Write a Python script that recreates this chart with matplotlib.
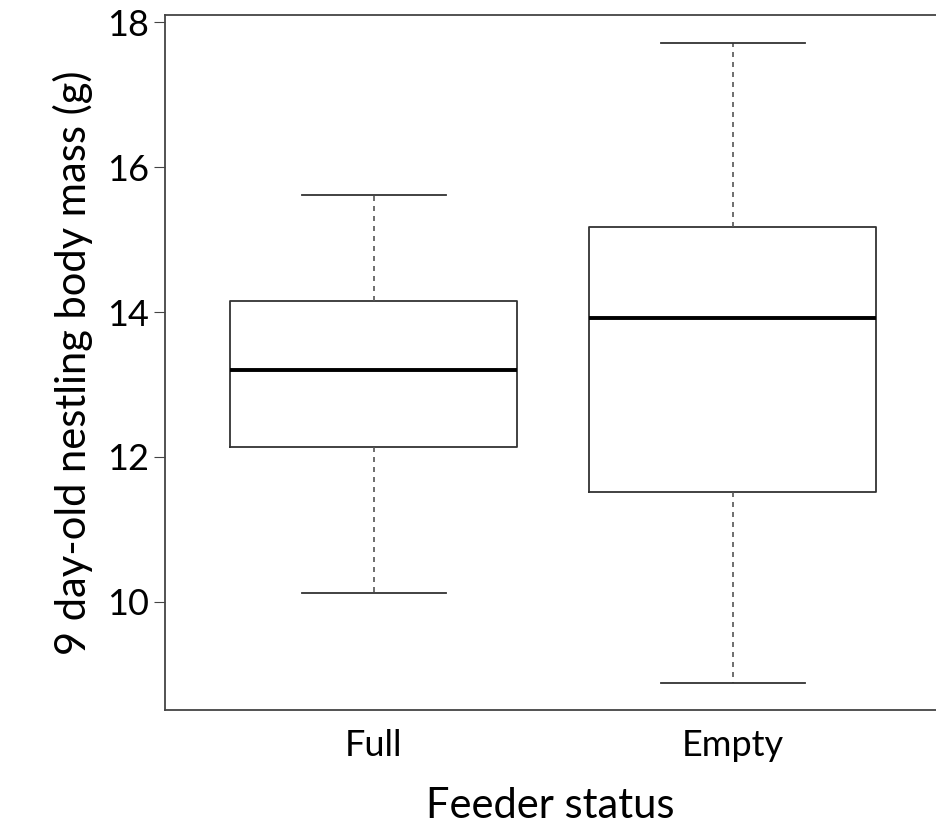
import matplotlib
matplotlib.use("Agg")
import matplotlib.pyplot as plt

plt.rcParams['font.family'] = ['Lato', 'DejaVu Sans']

groups = ["Full", "Empty"]
whisker_low = [10.12, 8.88]
q1 = [12.14, 11.52]
medians = [13.2, 13.92]
q3 = [14.15, 15.17]
whisker_high = [15.61, 17.72]

stats = []
for i, g in enumerate(groups):
    stats.append({"label": g, "whislo": whisker_low[i], "q1": q1[i], "med": medians[i],
                  "q3": q3[i], "whishi": whisker_high[i], "fliers": []})

fig = plt.figure(figsize=(9.36, 8.35), dpi=100)
ax = fig.add_axes([0.176, 0.150, 0.824, 0.832])
ax.bxp(stats, positions=[1, 2], widths=0.8, showfliers=False,
       boxprops=dict(color="#333333", linewidth=1.3),
       medianprops=dict(color="black", linewidth=2.8),
       whiskerprops=dict(color="#555555", linewidth=1.2, linestyle=(0, (3, 3))),
       capprops=dict(color="#333333", linewidth=1.3),
       capwidths=0.4)

ax.set_xlim(0.418, 2.566)
ax.set_ylim(8.51, 18.1)
ax.set_yticks([10, 12, 14, 16, 18])
for s in ax.spines.values():
    s.set_color("#444444")
    s.set_linewidth(1.3)
ax.spines["right"].set_visible(False)
ax.tick_params(axis="both", labelsize=26, color="#444444", length=8)
ax.tick_params(axis="x", length=0, pad=14)
ax.set_xlabel("Feeder status", fontsize=30, labelpad=18)
ax.set_ylabel("9 day-old nestling body mass (g)", fontsize=30, labelpad=10)

fig.savefig("out.png", dpi=100)
